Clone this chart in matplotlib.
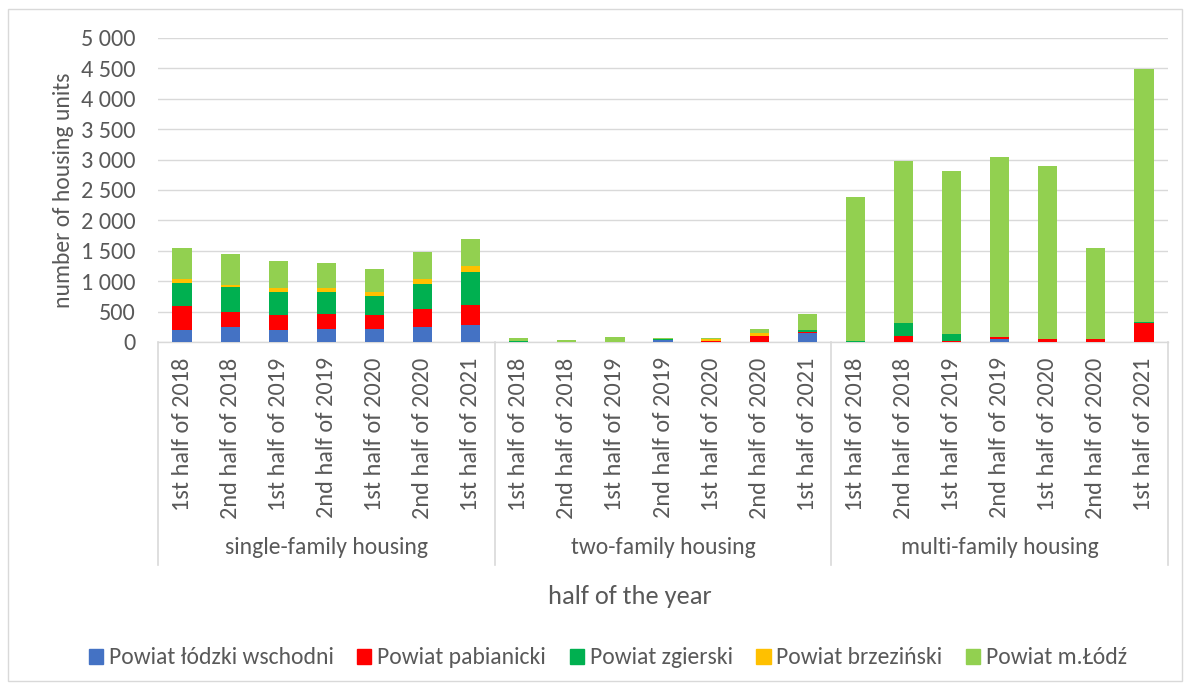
import matplotlib
matplotlib.use("Agg")
import matplotlib.pyplot as plt
import matplotlib.patches as mpatches
import matplotlib.transforms as mtransforms
import numpy as np

plt.rcParams['font.family'] = ['Carlito', 'Lato', 'DejaVu Sans']

periods = ["1st half of 2018", "2nd half of 2018", "1st half of 2019", "2nd half of 2019",
           "1st half of 2020", "2nd half of 2020", "1st half of 2021"]
groups = ["single-family housing", "two-family housing", "multi-family housing"]

series_names = ["Powiat łódzki wschodni", "Powiat pabianicki", "Powiat zgierski",
                "Powiat brzeziński", "Powiat m.Łódź"]
colors = ["#4472C4", "#FF0000", "#00B050", "#FFC000", "#92D050"]

lodzki_wsch = [195, 245, 200, 217, 222, 239, 278,
               0, 0, 0, 25, 0, 0, 156,
               0, 0, 0, 50, 0, 0, 0]
pabianicki = [389, 255, 250, 250, 217, 306, 328,
              0, 0, 0, 0, 15, 106, 11,
              0, 106, 17, 25, 50, 56, 311]
zgierski = [389, 400, 378, 356, 311, 406, 545,
            15, 0, 0, 30, 0, 0, 33,
            17, 206, 122, 0, 0, 0, 11]
brzezinski = [55, 40, 67, 61, 73, 77, 105,
              0, 0, 0, 0, 30, 44, 0,
              0, 0, 0, 0, 0, 0, 0]
m_lodz = [512, 500, 445, 411, 383, 456, 440,
          45, 28, 83, 10, 20, 67, 261,
          2370, 2673, 2671, 2972, 2850, 1494, 4168]

series = [lodzki_wsch, pabianicki, zgierski, brzezinski, m_lodz]

W, H = 1191, 689
fig = plt.figure(figsize=(W / 100, H / 100), dpi=100)
ax = fig.add_axes([158 / W, 1 - 342 / H, (1168 - 158) / W, (342 - 38) / H])

n = len(periods) * len(groups)
x = np.arange(n)
bottom = np.zeros(n)
for name, vals, c in zip(series_names, series, colors):
    v = np.array(vals, dtype=float)
    ax.bar(x, v, bottom=bottom, width=0.4, color=c, label=name, zorder=3)
    bottom += v

ax.set_xlim(-0.5, n - 0.5)
ax.set_ylim(0, 5000)
yt = np.arange(0, 5001, 500)
ax.set_yticks(yt)
ax.set_yticklabels([f"{v:,}".replace(",", " ") for v in yt])
ax.yaxis.grid(True, color="#d9d9d9", lw=1, zorder=0)
ax.set_axisbelow(True)
for s in ["top", "right", "left"]:
    ax.spines[s].set_visible(False)
ax.spines["bottom"].set_color("#d9d9d9")
ax.spines["bottom"].set_linewidth(1)

ax.set_xticks(x)
ax.set_xticklabels(periods * len(groups), rotation=90)
ax.tick_params(axis="x", length=0, pad=11, labelsize=17.5, labelcolor="#595959")
ax.tick_params(axis="y", length=0, pad=16, labelsize=17.5, labelcolor="#595959")

ax.set_ylabel("number of housing units", fontsize=17, color="#595959", labelpad=5)

trans = mtransforms.blended_transform_factory(ax.transData, ax.transAxes)
ybot = (342 - 565) / (342 - 38)
for b in [-0.5, 6.5, 13.5, 20.5]:
    ax.plot([b, b], [0, ybot], transform=trans, color="#d9d9d9", lw=1.2, clip_on=False)

ygrp = (342 - 548) / (342 - 38)
for i, g in enumerate(groups):
    ax.text(i * 7 + 3, ygrp, g, transform=trans, ha="center", va="center",
            fontsize=17, color="#595959")

fig.text((548 + 712) / 2 / W, 1 - 597 / H, "half of the year", ha="center", va="center",
         fontsize=19, color="#595959")

handles = [mpatches.Patch(color=c) for c in colors]
fig.legend(handles, series_names, loc="center", bbox_to_anchor=(608 / W, 1 - 658 / H), ncol=5,
           frameon=False, fontsize=17, labelcolor="#595959", handlelength=0.6,
           handleheight=0.6, handletextpad=0.25, columnspacing=1.0)

fig.patches.append(mpatches.Rectangle((8 / W, 8 / H), (W - 17) / W, (H - 17) / H,
                                      transform=fig.transFigure, fill=False,
                                      edgecolor="#d9d9d9", lw=1))

fig.savefig("out.png", dpi=100)
